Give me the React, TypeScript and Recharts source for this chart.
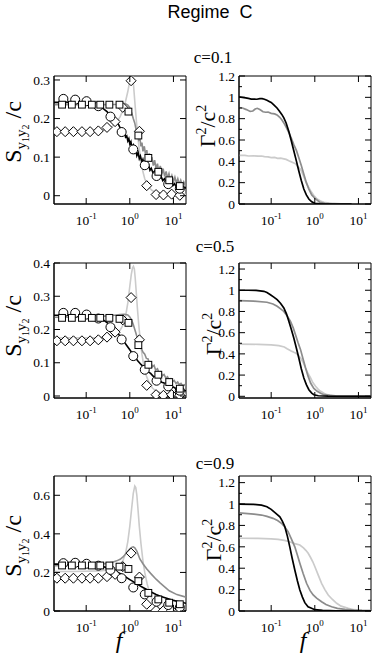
import React from 'react';
import { ComposedChart, Line, Scatter, XAxis, YAxis, ReferenceArea } from 'recharts';

type P = [number, number];

// ---------- shared ----------
const xTicks = [0.1, 1, 10];
const xDomain: [number, number] = [0.0183, 19.4];
const leftTicksC1 = [0, 0.1, 0.2, 0.3];
const leftTicksC5 = [0, 0.1, 0.2, 0.3, 0.4];
const leftTicksC9 = [0, 0.2, 0.4, 0.6];
const rightMajor = [0, 0.2, 0.4, 0.6, 0.8, 1, 1.2];
const rightMinor = [0.1, 0.3, 0.5, 0.7, 0.9, 1.1];

const circleF = [0.03, 0.056, 0.102, 0.19, 0.36, 0.65, 1.2, 2.2, 4.1, 7.6, 14];
const squareF = [0.028, 0.047, 0.08, 0.135, 0.21, 0.34, 0.58, 0.93, 1.57, 2.66, 4.5, 8, 14];
const diamondF = [0.0213, 0.033, 0.051, 0.08, 0.123, 0.19, 0.3, 0.46, 0.69, 1.07, 1.66, 2.44, 4.0, 5.9, 9.1, 14];

// ---------- c = 0.1 ----------
const c1Circles = [0.251, 0.249, 0.245, 0.232, 0.205, 0.165, 0.12, 0.079, 0.051, 0.03, 0.018];
const c1Squares = [0.236, 0.236, 0.236, 0.236, 0.236, 0.236, 0.236, 0.218, 0.156, 0.098, 0.062, 0.04, 0.025];
const c1Diamonds = [0.166, 0.166, 0.166, 0.166, 0.166, 0.168, 0.177, 0.192, 0.229, 0.298, 0.167, 0.026, 0.003, 0.002, 0.004, 0.001];
const c1SBlack: P[] = [[0.018,0.242],[0.03,0.242],[0.05,0.242],[0.08,0.241],[0.12,0.24],[0.16,0.237],[0.2,0.232],[0.25,0.225],[0.3,0.218],[0.35,0.21],[0.4,0.203],[0.45,0.197],[0.5,0.19],[0.55,0.185],[0.6,0.176],[0.65,0.175],[0.7,0.164],[0.75,0.166],[0.8,0.152],[0.85,0.155],[0.9,0.142],[0.95,0.148],[1.0,0.134],[1.06,0.14],[1.12,0.124],[1.2,0.131],[1.28,0.114],[1.36,0.121],[1.45,0.104],[1.55,0.112],[1.65,0.096],[1.75,0.103],[1.9,0.087],[2.0,0.094],[2.15,0.08],[2.3,0.087],[2.5,0.073],[2.7,0.079],[2.9,0.066],[3.1,0.071],[3.4,0.059],[3.7,0.064],[4.0,0.052],[4.4,0.057],[4.8,0.045],[5.2,0.05],[5.7,0.039],[6.2,0.044],[6.8,0.034],[7.4,0.039],[8.1,0.03],[8.9,0.034],[9.7,0.026],[10.6,0.031],[11.6,0.023],[12.7,0.027],[13.9,0.02],[15.2,0.024],[16.6,0.018],[18.2,0.022],[19.4,0.019]];
const c1SGray: P[] = [[0.018,0.236],[0.1,0.236],[0.3,0.236],[0.6,0.237],[0.8,0.238],[0.9,0.235],[1.0,0.228],[1.1,0.215],[1.2,0.2],[1.3,0.188],[1.4,0.17],[1.5,0.165],[1.6,0.145],[1.7,0.15],[1.8,0.128],[1.9,0.138],[2.0,0.115],[2.15,0.128],[2.3,0.105],[2.45,0.118],[2.6,0.095],[2.8,0.11],[3.0,0.088],[3.2,0.1],[3.45,0.078],[3.7,0.092],[4.0,0.07],[4.3,0.083],[4.6,0.063],[5.0,0.077],[5.4,0.056],[5.8,0.07],[6.3,0.05],[6.8,0.063],[7.3,0.045],[7.9,0.057],[8.5,0.04],[9.2,0.052],[10,0.036],[10.8,0.048],[11.7,0.033],[12.6,0.044],[13.6,0.03],[14.7,0.04],[15.9,0.028],[17.2,0.036],[18.5,0.027],[19.4,0.03]];
const c1SLight: P[] = [[0.018,0.166],[0.05,0.166],[0.1,0.166],[0.2,0.168],[0.3,0.172],[0.4,0.18],[0.5,0.19],[0.6,0.205],[0.7,0.222],[0.8,0.245],[0.9,0.27],[0.97,0.29],[1.03,0.305],[1.1,0.32],[1.16,0.312],[1.22,0.285],[1.3,0.245],[1.4,0.2],[1.5,0.16],[1.65,0.12],[1.8,0.09],[2.0,0.062],[2.2,0.044],[2.5,0.03],[2.8,0.021],[3.2,0.014],[3.7,0.01],[4.3,0.008],[5,0.006],[6,0.007],[7,0.005],[8.5,0.006],[10,0.004],[12,0.005],[14,0.004],[17,0.004],[19.4,0.003]];
const c1GBlack: P[] = [[0.018,1.005],[0.022,1.0],[0.026,0.995],[0.03,0.99],[0.035,0.984],[0.04,0.983],[0.047,0.982],[0.055,0.987],[0.062,0.988],[0.07,0.982],[0.08,0.972],[0.09,0.962],[0.1,0.952],[0.115,0.93],[0.136,0.9],[0.155,0.87],[0.175,0.84],[0.195,0.807],[0.22,0.76],[0.254,0.68],[0.29,0.59],[0.33,0.5],[0.38,0.4],[0.43,0.31],[0.49,0.22],[0.56,0.14],[0.64,0.085],[0.73,0.047],[0.85,0.02],[1.0,0.007],[1.3,0.002],[2,0.0],[7,0.0]];
const c1GGray: P[] = [[0.018,0.905],[0.022,0.9],[0.027,0.885],[0.033,0.868],[0.038,0.872],[0.043,0.89],[0.048,0.897],[0.055,0.885],[0.065,0.865],[0.075,0.86],[0.085,0.862],[0.1,0.85],[0.12,0.845],[0.136,0.835],[0.155,0.815],[0.175,0.79],[0.195,0.76],[0.22,0.72],[0.254,0.67],[0.29,0.615],[0.33,0.558],[0.38,0.5],[0.43,0.434],[0.49,0.36],[0.56,0.279],[0.64,0.2],[0.73,0.14],[0.85,0.085],[1.04,0.047],[1.3,0.016],[1.7,0.006],[2.5,0.002],[7,0.0]];
const c1GLight: P[] = [[0.018,0.456],[0.025,0.455],[0.03,0.45],[0.04,0.452],[0.05,0.448],[0.06,0.45],[0.07,0.444],[0.085,0.442],[0.1,0.435],[0.12,0.437],[0.14,0.428],[0.165,0.43],[0.195,0.423],[0.22,0.418],[0.254,0.405],[0.29,0.395],[0.33,0.385],[0.36,0.378],[0.41,0.35],[0.47,0.326],[0.53,0.28],[0.61,0.217],[0.7,0.165],[0.8,0.124],[0.95,0.08],[1.13,0.047],[1.35,0.028],[1.62,0.016],[2.1,0.008],[2.75,0.005],[4,0.002],[7,0.0]];

// ---------- c = 0.5 ----------
const c5Circles = [0.25, 0.25, 0.245, 0.233, 0.207, 0.17, 0.12, 0.079, 0.046, 0.029, 0.016];
const c5Squares = [0.235, 0.235, 0.235, 0.235, 0.235, 0.235, 0.232, 0.22, 0.153, 0.094, 0.064, 0.042, 0.022];
const c5Diamonds = [0.166, 0.166, 0.166, 0.166, 0.166, 0.169, 0.177, 0.192, 0.229, 0.296, 0.169, 0.032, 0.004, 0.002, 0.004, 0.002];
const c5SBlack: P[] = [[0.018,0.243],[0.05,0.243],[0.1,0.242],[0.15,0.239],[0.2,0.234],[0.25,0.228],[0.3,0.221],[0.4,0.207],[0.5,0.193],[0.6,0.18],[0.7,0.168],[0.85,0.152],[1.0,0.139],[1.2,0.124],[1.5,0.107],[1.8,0.095],[2.1,0.086],[2.4,0.08],[2.7,0.072],[3.0,0.068],[3.4,0.06],[3.8,0.057],[4.3,0.05],[4.8,0.047],[5.4,0.041],[6.1,0.039],[6.9,0.034],[7.8,0.032],[8.8,0.028],[10,0.027],[11.3,0.023],[12.8,0.022],[14.5,0.019],[16.4,0.019],[18.6,0.016],[19.4,0.016]];
const c5SGray: P[] = [[0.018,0.237],[0.1,0.238],[0.2,0.239],[0.4,0.242],[0.6,0.245],[0.75,0.246],[0.9,0.244],[1.0,0.238],[1.1,0.228],[1.2,0.215],[1.3,0.2],[1.45,0.18],[1.6,0.163],[1.8,0.146],[2.0,0.132],[2.2,0.126],[2.4,0.113],[2.6,0.112],[2.8,0.1],[3.0,0.102],[3.3,0.088],[3.6,0.092],[3.9,0.078],[4.3,0.082],[4.7,0.069],[5.1,0.073],[5.6,0.061],[6.1,0.065],[6.7,0.054],[7.3,0.058],[8,0.048],[8.7,0.052],[9.5,0.043],[10.4,0.047],[11.4,0.038],[12.5,0.042],[13.6,0.034],[14.9,0.038],[16.3,0.031],[17.8,0.034],[19.4,0.029]];
const c5SLight: P[] = [[0.018,0.175],[0.05,0.175],[0.1,0.175],[0.2,0.176],[0.3,0.178],[0.4,0.182],[0.5,0.188],[0.6,0.198],[0.7,0.214],[0.8,0.24],[0.9,0.28],[1.0,0.33],[1.08,0.365],[1.15,0.385],[1.21,0.39],[1.27,0.382],[1.33,0.355],[1.4,0.315],[1.5,0.26],[1.6,0.215],[1.75,0.165],[1.9,0.125],[2.1,0.09],[2.4,0.06],[2.8,0.038],[3.3,0.024],[4,0.015],[5,0.01],[7,0.007],[10,0.006],[14,0.005],[19.4,0.005]];
const c5GBlack: P[] = [[0.018,1.0],[0.03,1.0],[0.045,0.998],[0.068,0.99],[0.08,0.978],[0.096,0.958],[0.115,0.935],[0.137,0.911],[0.165,0.875],[0.195,0.833],[0.225,0.775],[0.254,0.707],[0.29,0.63],[0.33,0.55],[0.38,0.45],[0.43,0.361],[0.49,0.26],[0.561,0.173],[0.64,0.11],[0.731,0.062],[0.85,0.03],[0.953,0.015],[1.2,0.005],[2,0.001],[19.4,0.0]];
const c5GGray: P[] = [[0.018,0.902],[0.04,0.897],[0.08,0.887],[0.11,0.87],[0.137,0.849],[0.165,0.825],[0.195,0.8],[0.235,0.755],[0.277,0.707],[0.32,0.645],[0.361,0.581],[0.41,0.51],[0.471,0.44],[0.54,0.35],[0.614,0.267],[0.7,0.19],[0.8,0.125],[0.95,0.075],[1.135,0.047],[1.36,0.028],[1.62,0.015],[2.2,0.008],[3,0.005],[6,0.003],[19.4,0.002]];
const c5GLight: P[] = [[0.018,0.493],[0.05,0.49],[0.1,0.485],[0.15,0.478],[0.2,0.465],[0.232,0.449],[0.28,0.43],[0.33,0.415],[0.361,0.408],[0.41,0.39],[0.471,0.361],[0.54,0.32],[0.614,0.267],[0.7,0.215],[0.8,0.173],[0.9,0.13],[1.04,0.094],[1.2,0.065],[1.36,0.047],[1.62,0.028],[1.93,0.015],[2.5,0.007],[4,0.003],[19.4,0.001]];

// ---------- c = 0.9 ----------
const c9Circles = [0.248, 0.25, 0.245, 0.235, 0.213, 0.17, 0.122, 0.086, 0.048, 0.031, 0.019];
const c9Squares = [0.236, 0.236, 0.236, 0.236, 0.236, 0.236, 0.23, 0.218, 0.155, 0.094, 0.06, 0.043, 0.035];
const c9Diamonds = [0.17, 0.17, 0.17, 0.17, 0.17, 0.17, 0.178, 0.19, 0.23, 0.3, 0.176, 0.035, 0.003, 0.002, 0.003, 0.002];
const c9SBlack: P[] = [[0.018,0.243],[0.05,0.243],[0.1,0.241],[0.15,0.238],[0.2,0.235],[0.3,0.225],[0.4,0.215],[0.5,0.204],[0.65,0.19],[0.8,0.177],[1.0,0.163],[1.2,0.152],[1.5,0.138],[2,0.122],[2.5,0.11],[3,0.1],[4,0.086],[5,0.077],[7,0.066],[10,0.055],[14,0.047],[19.4,0.04]];
const c9SGray: P[] = [[0.018,0.235],[0.05,0.236],[0.1,0.238],[0.2,0.242],[0.3,0.247],[0.4,0.253],[0.5,0.26],[0.6,0.268],[0.7,0.28],[0.8,0.295],[0.9,0.31],[1.0,0.322],[1.1,0.33],[1.2,0.333],[1.3,0.328],[1.45,0.31],[1.7,0.27],[2.0,0.245],[2.4,0.22],[3,0.195],[4,0.165],[5,0.145],[8,0.105],[12,0.085],[19.4,0.072]];
const c9SLight: P[] = [[0.018,0.205],[0.05,0.205],[0.1,0.206],[0.2,0.208],[0.3,0.212],[0.4,0.218],[0.5,0.226],[0.6,0.24],[0.7,0.262],[0.8,0.3],[0.9,0.36],[1.0,0.44],[1.1,0.53],[1.2,0.61],[1.3,0.648],[1.37,0.64],[1.45,0.6],[1.55,0.52],[1.65,0.44],[1.8,0.35],[2.0,0.26],[2.2,0.2],[2.5,0.14],[2.8,0.1],[3.2,0.065],[3.6,0.04],[4.1,0.02],[4.6,0.008],[5.2,0.0]];
const c9GBlack: P[] = [[0.018,1.0],[0.04,0.997],[0.06,0.99],[0.08,0.975],[0.1,0.95],[0.13,0.91],[0.158,0.88],[0.18,0.84],[0.205,0.79],[0.235,0.7],[0.267,0.6],[0.3,0.5],[0.348,0.383],[0.4,0.28],[0.454,0.196],[0.52,0.13],[0.59,0.078],[0.7,0.04],[0.843,0.025],[1.0,0.012],[1.5,0.005],[3,0.002],[19.4,0.0]];
const c9GGray: P[] = [[0.018,0.918],[0.04,0.905],[0.06,0.897],[0.08,0.885],[0.11,0.866],[0.14,0.845],[0.172,0.82],[0.205,0.785],[0.244,0.741],[0.29,0.675],[0.348,0.6],[0.4,0.52],[0.454,0.446],[0.54,0.35],[0.647,0.259],[0.78,0.19],[0.918,0.15],[1.1,0.12],[1.43,0.087],[1.8,0.06],[2.43,0.04],[3.3,0.025],[4.92,0.016],[8,0.008],[12,0.005],[19.4,0.004]];
const c9GLight: P[] = [[0.018,0.68],[0.05,0.678],[0.1,0.675],[0.144,0.67],[0.2,0.66],[0.25,0.65],[0.292,0.64],[0.348,0.63],[0.454,0.617],[0.55,0.59],[0.63,0.565],[0.705,0.54],[0.8,0.5],[0.9,0.46],[1.0,0.416],[1.2,0.335],[1.43,0.259],[1.7,0.2],[2.03,0.15],[2.5,0.11],[3.17,0.072],[4,0.045],[5.86,0.025],[8,0.012],[12,0.006],[19.4,0.004]];

// ---------- helpers ----------
const SERIF = '"Liberation Serif", "Times New Roman", serif';
const SANS = '"Liberation Sans", Arial, sans-serif';
const BLACK = '#000000';
const GRAY = '#8c8c8c';
const LIGHT = '#cbcbcb';
const FW = 132;
const TOPPAD = 9;

const pts = (a: P[]) => a.map(([f, v]) => ({ f, v }));
const zip = (fs: number[], vs: number[]) => fs.map((f, i) => ({ f, v: vs[i] }));

const CircleShape = (p: any) => <circle cx={p.cx} cy={p.cy} r={4.5} fill="#fff" stroke="#000" strokeWidth={1} />;
const SquareShape = (p: any) => <rect x={p.cx - 3.4} y={p.cy - 3.4} width={6.8} height={6.8} fill="#fff" stroke="#000" strokeWidth={1} />;
const DiamondShape = (p: any) => (
  <path d={`M${p.cx},${p.cy - 5} L${p.cx + 5},${p.cy} L${p.cx},${p.cy + 5} L${p.cx - 5},${p.cy} Z`} fill="#fff" stroke="#000" strokeWidth={1} />
);

const tickTextStyle = { fontFamily: SERIF, fontSize: 13.5 };

const makeXTick = (h: number) => (p: any) => {
  const { x, y, payload } = p;
  const e = Math.round(Math.log10(payload.value));
  return (
    <g>
      <line x1={x} y1={y} x2={x} y2={y - 6} stroke="#000" />
      <line x1={x} y1={y - h} x2={x} y2={y - h + 6} stroke="#000" />
      <text x={x} y={y + 21} textAnchor="middle" style={tickTextStyle} fill="#000">
        10<tspan style={{ fontSize: 9 }} dy={-6}>{String(e)}</tspan>
      </text>
    </g>
  );
};

const makeYTick = (w: number, majors: number[]) => (p: any) => {
  const { x, y, payload } = p;
  const isMajor = majors.some((m) => Math.abs(m - payload.value) < 1e-9);
  const len = isMajor ? 6 : 3;
  return (
    <g>
      <line x1={x} y1={y} x2={x + len} y2={y} stroke="#000" />
      <line x1={x + w} y1={y} x2={x + w - len} y2={y} stroke="#000" />
      {isMajor && (
        <text x={x - 4} y={y} dy="0.35em" textAnchor="end" style={tickTextStyle} fill="#000">
          {String(payload.value)}
        </text>
      )}
    </g>
  );
};

interface LineCfg { data: P[]; color: string; width: number }
interface PanelCfg {
  left: number; top: number; frameH: number; chartW: number; yW: number; mr: number;
  yDomain: [number, number]; yTicks: number[]; yMajor: number[];
  lines: LineCfg[];
  circles?: number[]; squares?: number[]; diamonds?: number[];
}

function Panel({ cfg }: { cfg: PanelCfg }) {
  const chartH = cfg.frameH + TOPPAD + 30;
  return (
    <div style={{ position: 'absolute', left: cfg.left, top: cfg.top - TOPPAD }}>
      <ComposedChart width={cfg.chartW} height={chartH} margin={{ top: TOPPAD, right: cfg.mr, bottom: 0, left: 0 }}>
        <XAxis dataKey="f" type="number" scale="log" domain={xDomain} allowDataOverflow ticks={xTicks} interval={0}
          tickLine={false} tickSize={0} tickMargin={0} height={30} axisLine={{ stroke: '#000' }} tick={makeXTick(cfg.frameH)} />
        <YAxis type="number" domain={cfg.yDomain} allowDataOverflow ticks={cfg.yTicks} interval={0} width={cfg.yW}
          tickLine={false} tickSize={0} tickMargin={0} axisLine={{ stroke: '#000' }} tick={makeYTick(FW, cfg.yMajor)} />
        {cfg.lines.map((l, i) => (
          <Line key={i} data={pts(l.data)} dataKey="v" stroke={l.color} strokeWidth={l.width} dot={false} activeDot={false}
            type="linear" isAnimationActive={false} />
        ))}
        {cfg.diamonds && <Scatter data={zip(diamondF, cfg.diamonds)} dataKey="v" shape={DiamondShape} isAnimationActive={false} />}
        {cfg.circles && <Scatter data={zip(circleF, cfg.circles)} dataKey="v" shape={CircleShape} isAnimationActive={false} />}
        {cfg.squares && <Scatter data={zip(squareF, cfg.squares)} dataKey="v" shape={SquareShape} isAnimationActive={false} />}
        <ReferenceArea x1={xDomain[0]} x2={xDomain[1]} y1={cfg.yDomain[0]} y2={cfg.yDomain[1]} fill="none" stroke="#000"
          strokeWidth={1} ifOverflow="visible" />
      </ComposedChart>
    </div>
  );
}

const ROW = [
  { top: 76, h: 128 },
  { top: 263, h: 135 },
  { top: 476, h: 135 },
];

const leftBase = { left: 0, chartW: 190, yW: 54, mr: 4 };
const rightBase = { left: 190, chartW: 184, yW: 49, mr: 3 };

const panels: PanelCfg[] = [
  { ...leftBase, top: ROW[0].top, frameH: ROW[0].h, yDomain: [-0.0215, 0.3103], yTicks: leftTicksC1, yMajor: leftTicksC1,
    lines: [{ data: c1SLight, color: LIGHT, width: 1.6 }, { data: c1SGray, color: GRAY, width: 1.6 }, { data: c1SBlack, color: BLACK, width: 1.6 }],
    circles: c1Circles, squares: c1Squares, diamonds: c1Diamonds },
  { ...rightBase, top: ROW[0].top, frameH: ROW[0].h, yDomain: [0, 1.2], yTicks: [...rightMajor, ...rightMinor], yMajor: rightMajor,
    lines: [{ data: c1GLight, color: LIGHT, width: 1.7 }, { data: c1GGray, color: GRAY, width: 1.7 }, { data: c1GBlack, color: BLACK, width: 1.7 }] },
  { ...leftBase, top: ROW[1].top, frameH: ROW[1].h, yDomain: [-0.006, 0.4], yTicks: leftTicksC5, yMajor: leftTicksC5,
    lines: [{ data: c5SLight, color: LIGHT, width: 1.6 }, { data: c5SGray, color: GRAY, width: 1.6 }, { data: c5SBlack, color: BLACK, width: 1.6 }],
    circles: c5Circles, squares: c5Squares, diamonds: c5Diamonds },
  { ...rightBase, top: ROW[1].top, frameH: ROW[1].h, yDomain: [-0.016, 1.257], yTicks: [...rightMajor, ...rightMinor], yMajor: rightMajor,
    lines: [{ data: c5GLight, color: LIGHT, width: 1.7 }, { data: c5GGray, color: GRAY, width: 1.7 }, { data: c5GBlack, color: BLACK, width: 1.7 }] },
  { ...leftBase, top: ROW[2].top, frameH: ROW[2].h, yDomain: [0, 0.7], yTicks: leftTicksC9, yMajor: leftTicksC9,
    lines: [{ data: c9SLight, color: LIGHT, width: 1.6 }, { data: c9SGray, color: GRAY, width: 1.6 }, { data: c9SBlack, color: BLACK, width: 1.6 }],
    circles: c9Circles, squares: c9Squares, diamonds: c9Diamonds },
  { ...rightBase, top: ROW[2].top, frameH: ROW[2].h, yDomain: [0, 1.262], yTicks: [...rightMajor, ...rightMinor], yMajor: rightMajor,
    lines: [{ data: c9GLight, color: LIGHT, width: 1.7 }, { data: c9GGray, color: GRAY, width: 1.7 }, { data: c9GBlack, color: BLACK, width: 1.7 }] },
];

const cLabels = [
  { text: 'c=0.1', x: 213, y: 63 },
  { text: 'c=0.5', x: 215, y: 252 },
  { text: 'c=0.9', x: 215, y: 469 },
];
const sLabelPos = [
  { x: 21, y: 132 },
  { x: 21, y: 326 },
  { x: 21, y: 546 },
];
const gLabelPos = [
  { x: 215, y: 126 },
  { x: 221, y: 334 },
  { x: 221, y: 540 },
];

function SLabel({ x, y }: { x: number; y: number }) {
  return (
    <text transform={`translate(${x},${y}) rotate(-90)`} textAnchor="middle" style={{ fontFamily: SERIF, fontSize: 24 }} fill="#000">
      S<tspan style={{ fontSize: 15 }} dy={5}>y</tspan><tspan style={{ fontSize: 10 }} dy={3}>1</tspan><tspan style={{ fontSize: 15 }} dy={-3}>y</tspan><tspan style={{ fontSize: 10 }} dy={3}>2</tspan><tspan style={{ fontSize: 24 }} dy={-8}>{' /c'}</tspan>
    </text>
  );
}

function GLabel({ x, y }: { x: number; y: number }) {
  return (
    <text transform={`translate(${x},${y}) rotate(-90)`} textAnchor="middle" style={{ fontFamily: SERIF, fontSize: 22 }} fill="#000">
      Γ<tspan style={{ fontSize: 14 }} dy={-9}>2</tspan><tspan style={{ fontSize: 22 }} dy={9}>/c</tspan><tspan style={{ fontSize: 14 }} dy={-9}>2</tspan>
    </text>
  );
}

export default function App() {
  return (
    <div style={{ position: 'absolute', left: 0, top: 0, width: 374, height: 654, background: '#fff', overflow: 'hidden' }}>
      {panels.map((p, i) => <Panel key={i} cfg={p} />)}
      <svg width={374} height={654} style={{ position: 'absolute', left: 0, top: 0, pointerEvents: 'none' }}>
        <text x={210} y={18} textAnchor="middle" style={{ fontFamily: SANS, fontSize: 18, wordSpacing: 5 }} fill="#000">Regime C</text>
        {cLabels.map((c, i) => (
          <text key={i} x={c.x} y={c.y} textAnchor="middle" style={{ fontFamily: SERIF, fontSize: 17 }} fill="#000">{c.text}</text>
        ))}
        {sLabelPos.map((p, i) => <SLabel key={i} x={p.x} y={p.y} />)}
        {gLabelPos.map((p, i) => <GLabel key={i} x={p.x} y={p.y} />)}
        <text x={119} y={648} textAnchor="middle" style={{ fontFamily: SERIF, fontStyle: 'italic', fontSize: 24 }} fill="#000">f</text>
        <text x={303} y={648} textAnchor="middle" style={{ fontFamily: SERIF, fontStyle: 'italic', fontSize: 24 }} fill="#000">f</text>
      </svg>
    </div>
  );
}
